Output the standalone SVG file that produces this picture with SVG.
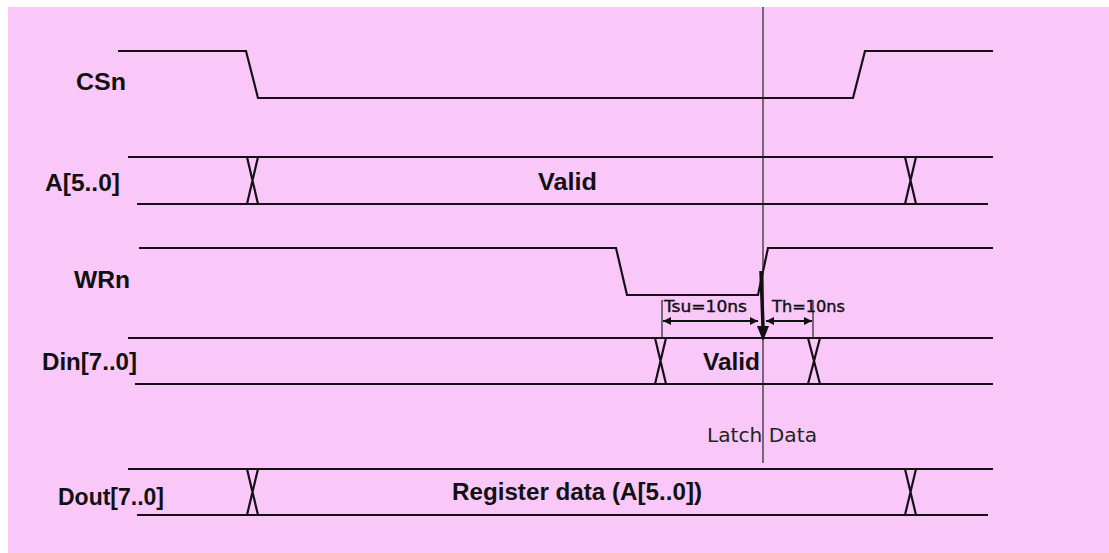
<svg xmlns="http://www.w3.org/2000/svg" width="1109" height="553" viewBox="0 0 1109 553">
  <defs>
    <marker id="ah" viewBox="0 0 10 10" refX="10" refY="5" markerWidth="9" markerHeight="8" markerUnits="userSpaceOnUse" orient="auto-start-reverse">
      <path d="M0,0 L10,5 L0,10 Z" fill="#111"/>
    </marker>
  </defs>
  <style>
    .wave { fill: none; stroke: #151015; stroke-width: 2.2; stroke-linejoin: miter; }
    .lbl { font-family: "Liberation Sans", Arial, sans-serif; font-weight: bold; font-size: 23px; fill: #111; }
    .dim { font-family: "DejaVu Sans", Verdana, sans-serif; font-size: 16px; fill: #111; stroke: #111; stroke-width: 0.4; }
    .note { font-family: "DejaVu Sans", Verdana, sans-serif; font-size: 20px; fill: #222; }
    .thin { fill: none; stroke: #222; stroke-width: 1.2; }
    .dimline { fill: none; stroke: #111; stroke-width: 2; }
  </style>
  <rect x="0" y="0" width="1109" height="553" fill="#ffffff"/>
  <rect x="8" y="7" width="1101" height="546" fill="#F9C8F9"/>

  <g id="CSn">
    <text class="lbl" x="76" y="90" textLength="50" lengthAdjust="spacingAndGlyphs">CSn</text>
    <polyline class="wave" points="118,51 246,51 258,98 853,98 865,51 993,51"/>
  </g>

  <g id="A">
    <text class="lbl" x="45" y="191" textLength="75" lengthAdjust="spacingAndGlyphs">A[5..0]</text>
    <line class="wave" x1="128" y1="157" x2="993" y2="157"/>
    <line class="wave" x1="137" y1="204" x2="988" y2="204"/>
    <path class="wave" d="M247,157 L258,204 M258,157 L247,204"/>
    <path class="wave" d="M905,157 L916,204 M916,157 L905,204"/>
    <text class="lbl" x="538" y="190" textLength="59" lengthAdjust="spacingAndGlyphs">Valid</text>
  </g>

  <g id="WRn">
    <text class="lbl" x="74" y="288" textLength="56" lengthAdjust="spacingAndGlyphs">WRn</text>
    <polyline class="wave" points="139,248 616,248 627,295 758,295 768,248 993,248"/>
  </g>

  <g id="Din">
    <text class="lbl" x="42" y="370" textLength="95" lengthAdjust="spacingAndGlyphs">Din[7..0]</text>
    <line class="wave" x1="128" y1="338" x2="993" y2="338"/>
    <line class="wave" x1="135" y1="384" x2="993" y2="384"/>
    <path class="wave" d="M655,338 L666,384 M666,338 L655,384"/>
    <path class="wave" d="M808,338 L820,384 M820,338 L808,384"/>
    <text class="lbl" x="703" y="370" textLength="57" lengthAdjust="spacingAndGlyphs">Valid</text>
  </g>

  <g id="Dout">
    <text class="lbl" x="58" y="505" textLength="106" lengthAdjust="spacingAndGlyphs">Dout[7..0]</text>
    <line class="wave" x1="128" y1="469" x2="993" y2="469"/>
    <line class="wave" x1="137" y1="515" x2="988" y2="515"/>
    <path class="wave" d="M247,469 L258,515 M258,469 L247,515"/>
    <path class="wave" d="M905,469 L916,515 M916,469 L905,515"/>
    <text class="lbl" x="452" y="500" textLength="250" lengthAdjust="spacingAndGlyphs">Register data (A[5..0])</text>
  </g>

  <g id="latch">
    <line class="thin" x1="763" y1="7" x2="763" y2="463"/>
    <text class="note" x="707" y="442" textLength="110" lengthAdjust="spacingAndGlyphs">Latch Data</text>
  </g>

  <g id="connectors">
    <line stroke="#111" stroke-width="3.5" x1="761" y1="271" x2="763" y2="327"/>
    <path d="M757,326 L769,326 L763,341 Z" fill="#111"/>
    <line class="thin" x1="662" y1="300" x2="662" y2="338"/>
    <line class="thin" x1="813" y1="300" x2="813" y2="338"/>
    <line class="dimline" x1="663" y1="321" x2="758" y2="321" marker-start="url(#ah)" marker-end="url(#ah)"/>
    <line class="dimline" x1="766" y1="321" x2="812" y2="321" marker-start="url(#ah)" marker-end="url(#ah)"/>
    <text class="dim" x="664" y="312" textLength="83" lengthAdjust="spacingAndGlyphs">Tsu=10ns</text>
    <text class="dim" x="772" y="312" textLength="73" lengthAdjust="spacingAndGlyphs">Th=10ns</text>
  </g>
</svg>
